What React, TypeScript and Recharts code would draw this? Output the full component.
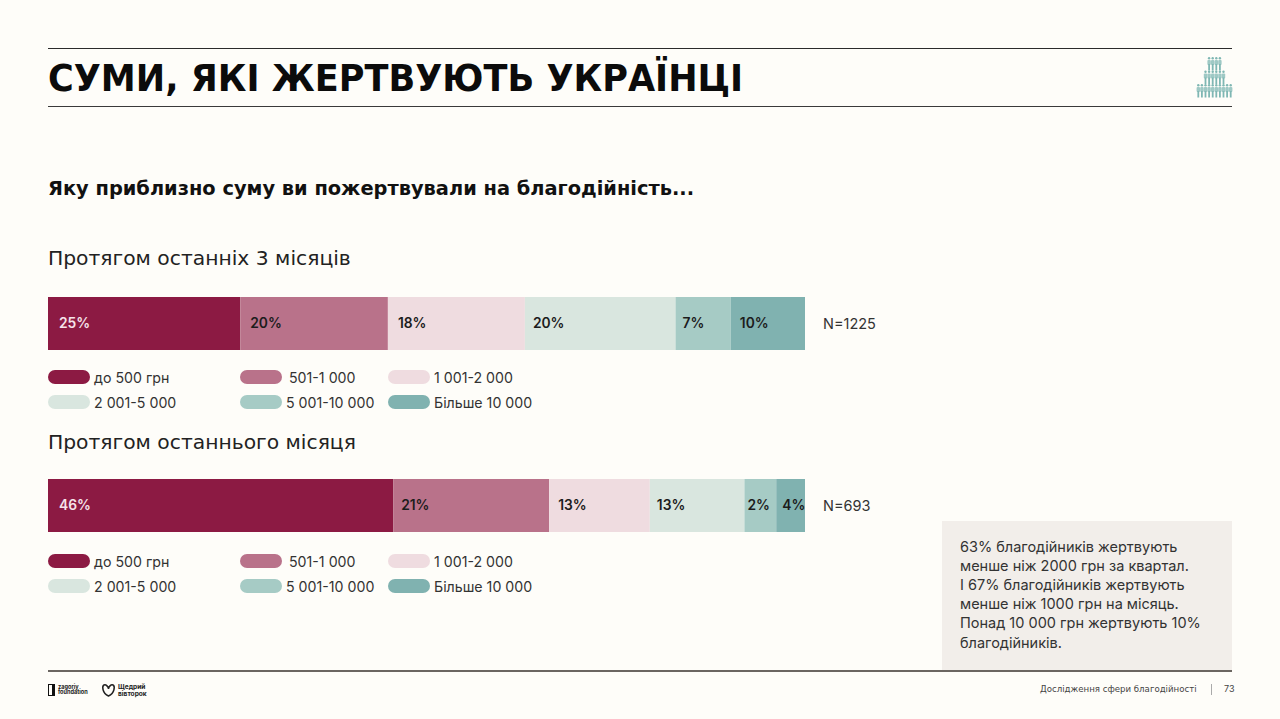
import React from "react";
import { BarChart, Bar, XAxis, YAxis, LabelList } from "recharts";

const seriesNames = ["до 500 грн", "501-1 000", "1 001-2 000", "2 001-5 000", "5 001-10 000", "Більше 10 000"];
const seriesColors = ["#8C1A43", "#B9728A", "#EFDCE0", "#D9E6DF", "#A6CBC5", "#80B2B0"];
const quarterValues = [25.4, 19.5, 18.1, 19.9, 7.3, 9.8];
const quarterLabels = ["25%", "20%", "18%", "20%", "7%", "10%"];
const monthValues = [45.6, 20.6, 13.3, 12.5, 4.2, 3.8];
const monthLabels = ["46%", "21%", "13%", "13%", "2%", "4%"];
const noteLines = [
  "63% благодійників жертвують",
  "менше ніж 2000 грн за квартал.",
  "І 67% благодійників жертвують",
  "менше ніж 1000 грн на місяць.",
  "Понад 10 000 грн жертвують 10%",
  "благодійників.",
];
const iconRows = [4, 6, 10];

const BODY = "Inter, 'Noto Sans', sans-serif";
const WIDE = "'DejaVu Sans', sans-serif";

const abs = (left: number, top: number, extra: React.CSSProperties = {}): React.CSSProperties => ({
  position: "absolute", left, top, whiteSpace: "nowrap", ...extra,
});

function Stacked({ top, values, labels, offsets }: { top: number; values: number[]; labels: string[]; offsets: number[] }) {
  const row: Record<string, string | number> = { name: "row" };
  values.forEach((v, i) => { row[`s${i}`] = v; row[`l${i}`] = labels[i]; });
  return (
    <div style={{ position: "absolute", left: 48, top }}>
      <BarChart width={757} height={53} data={[row]} layout="vertical" margin={{ top: 0, right: 0, bottom: 0, left: 0 }} barCategoryGap={0}>
        <XAxis type="number" hide domain={[0, 100]} />
        <YAxis type="category" dataKey="name" hide />
        {values.map((_, i) => (
          <Bar key={i} dataKey={`s${i}`} stackId="a" fill={seriesColors[i]} isAnimationActive={false}>
            <LabelList
              dataKey={`l${i}`}
              position="insideLeft"
              offset={offsets[i]}
              fill={i === 0 ? "#F6E3EA" : "#1C1C1C"}
              style={{ fontFamily: BODY, fontSize: 13.8, fontWeight: 600 }}
            />
          </Bar>
        ))}
      </BarChart>
    </div>
  );
}

function LegendBlock({ top }: { top: number }) {
  const swatchX = [48, 240, 388, 48, 240, 388];
  const textX = [94, 289, 434, 94, 286, 434];
  return (
    <>
      {seriesNames.map((name, i) => {
        const y = top + (i > 2 ? 25 : 0);
        return (
          <React.Fragment key={name}>
            <div style={abs(swatchX[i], y, { width: 42, height: 14, borderRadius: 7, background: seriesColors[i] })} />
            <div style={abs(textX[i], y - 2, { fontFamily: BODY, fontSize: 14.2, lineHeight: "19px", color: "#333" })}>{name}</div>
          </React.Fragment>
        );
      })}
    </>
  );
}

function PeopleIcon() {
  return (
    <svg style={{ position: "absolute", left: 1196, top: 56 }} width={37} height={42}>
      {iconRows.map((count, r) =>
        Array.from({ length: count }, (_, c) => {
          const step = 3.6;
          const x = 18.5 - ((count - 1) * step) / 2 + c * step;
          const y = r * 13.5 + 1;
          return (
            <g key={`${r}-${c}`} fill="#7FB7B3">
              <circle cx={x} cy={y + 1.2} r={1.2} />
              <rect x={x - 1.7} y={y + 3} width={3.4} height={5} rx={1} opacity={0.75} />
              <rect x={x - 0.9} y={y + 7} width={1.8} height={6.5} />
            </g>
          );
        })
      )}
    </svg>
  );
}

export default function App() {
  return (
    <div style={{ position: "fixed", left: 0, top: 0, width: 1280, height: 719, background: "#FEFDF9", overflow: "hidden", fontFamily: BODY }}>
      <div style={abs(48, 48, { width: 1184, height: 1, background: "#2b2b2b" })} />
      <div style={abs(48, 105.5, { width: 1184, height: 1.5, background: "#3a3a3a" })} />
      <div style={abs(48, 55, { fontFamily: WIDE, fontWeight: 700, fontSize: 38, lineHeight: "46px", color: "#0b0b0b", transform: "scaleX(0.924)", transformOrigin: "left center" })}>СУМИ, ЯКІ ЖЕРТВУЮТЬ УКРАЇНЦІ</div>
      <PeopleIcon />

      <div style={abs(48, 176, { fontFamily: WIDE, fontWeight: 700, fontSize: 19.4, lineHeight: "25px", color: "#111" })}>Яку приблизно суму ви пожертвували на благодійність...</div>

      <div style={abs(48, 246, { fontFamily: WIDE, fontSize: 20.3, lineHeight: "25px", color: "#222" })}>Протягом останніх 3 місяців</div>
      <Stacked top={297} values={quarterValues} labels={quarterLabels} offsets={[11, 10, 10, 8, 7, 9]} />
      <div style={abs(823, 315, { fontSize: 14.5, lineHeight: "18px", color: "#333" })}>N=1225</div>
      <LegendBlock top={370} />

      <div style={abs(48, 430, { fontFamily: WIDE, fontSize: 20.3, lineHeight: "25px", color: "#222" })}>Протягом останнього місяця</div>
      <Stacked top={479} values={monthValues} labels={monthLabels} offsets={[11, 8, 9, 7, 3, 6]} />
      <div style={abs(823, 497, { fontSize: 14.5, lineHeight: "18px", color: "#333" })}>N=693</div>
      <LegendBlock top={554} />

      <div style={abs(942, 521, { width: 290, height: 149, background: "#F2EEEA" })} />
      {noteLines.map((line, i) => (
        <div key={line} style={abs(960, 537 + i * 19.1, { fontSize: 14.5, lineHeight: "19px", color: "#333" })}>{line}</div>
      ))}

      <div style={abs(48, 670, { width: 1184, height: 1.5, background: "#6b6661" })} />
      <div style={abs(48, 684, { width: 7, height: 12, boxSizing: "border-box", border: "1.5px solid #111", borderRightWidth: 3 })} />
      <div style={abs(58, 685, { fontSize: 5.6, lineHeight: "5.2px", fontWeight: 700, color: "#222" })}>zagoriy<br />foundation</div>
      <svg style={{ position: "absolute", left: 101, top: 683 }} width={15} height={14}>
        <path d="M7.5 13 C1 10 1 3 3 2 C5 1 7.5 4 7.5 6 C7.5 4 10 1 12 2 C14 3 14 10 7.5 13 Z" fill="none" stroke="#222" strokeWidth={1.5} />
      </svg>
      <div style={abs(118, 684, { fontSize: 6.6, lineHeight: "6.5px", fontWeight: 700, color: "#222" })}>Щедрий<br />вівторок</div>
      <div style={abs(1040, 683, { fontFamily: WIDE, fontSize: 8.6, lineHeight: "12px", color: "#444" })}>Дослідження сфери благодійності</div>
      <div style={abs(1211, 684, { width: 1, height: 11, background: "#aaa" })} />
      <div style={abs(1224, 683, { fontSize: 9, lineHeight: "12px", color: "#444" })}>73</div>
    </div>
  );
}
